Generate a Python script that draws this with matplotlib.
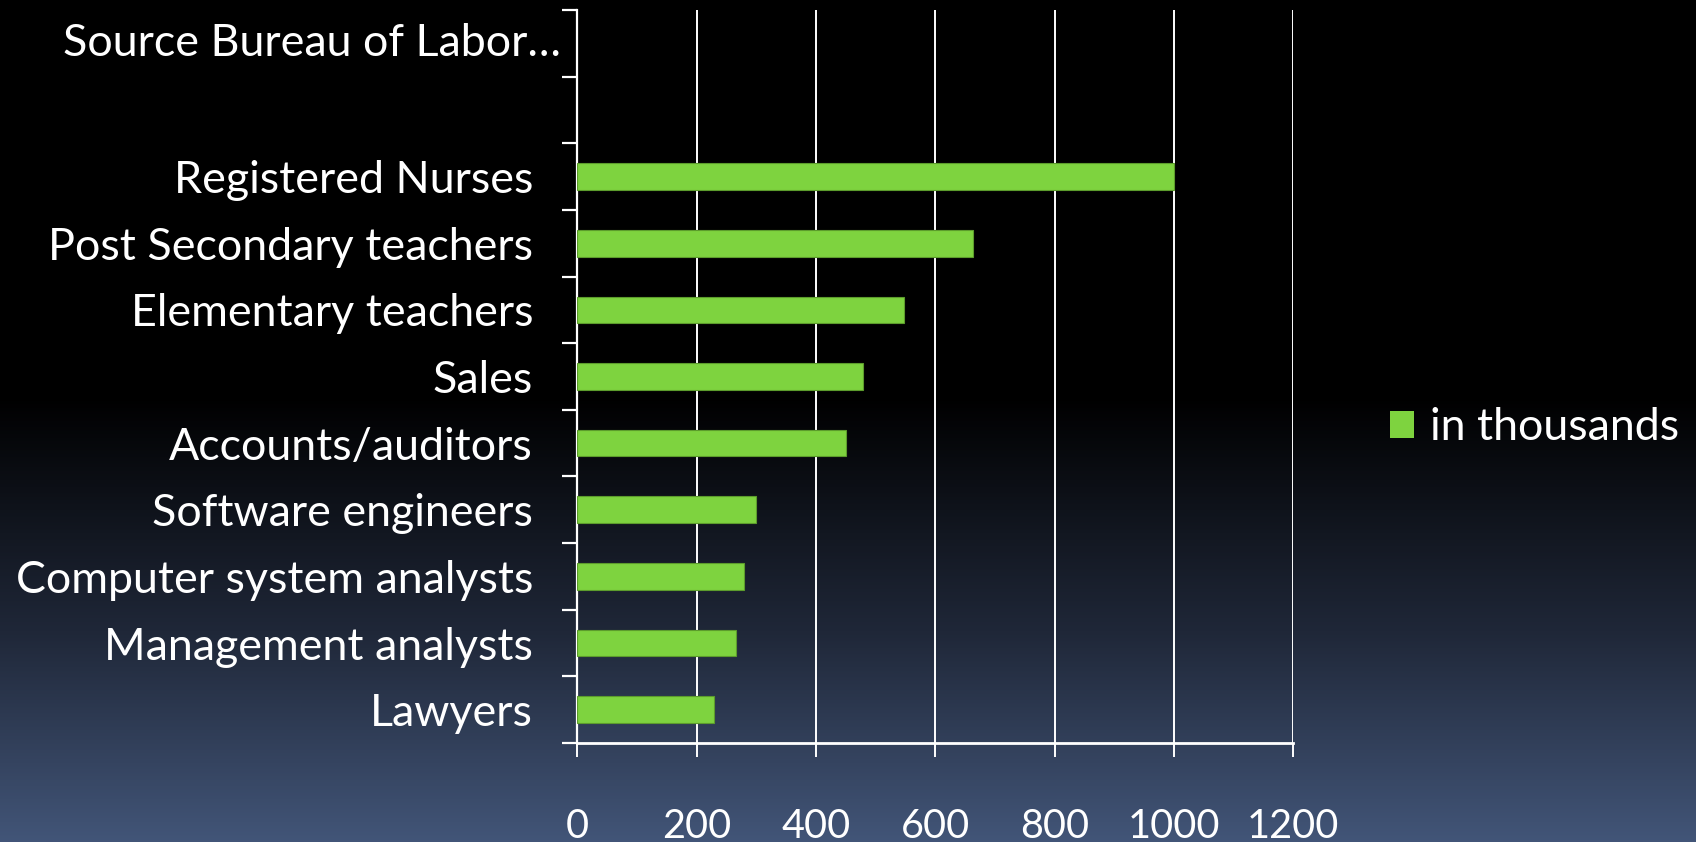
import matplotlib.pyplot as plt
import numpy as np
from matplotlib.colors import LinearSegmentedColormap
from matplotlib.patches import Patch
import matplotlib.transforms as mtransforms

plt.rcParams['font.family'] = ['Lato', 'DejaVu Sans']

# data, bottom to top (index 9 is an empty slot, 10 holds the source note)
jobs = ["Lawyers", "Management analysts", "Computer system analysts",
        "Software engineers", "Accounts/auditors", "Sales",
        "Elementary teachers", "Post Secondary teachers", "Registered Nurses"]
in_thousands = [229, 265, 280, 300, 450, 478, 547, 663, 1000]
source_note = "Source Bureau of Labor\u2026"
x_ticks = [0, 200, 400, 600, 800, 1000, 1200]

green = "#7ed33f"
fs = 32.2

fig = plt.figure(figsize=(16.96, 8.42), dpi=100)

# background: black on top, fading to slate blue at the bottom
bg = fig.add_axes([0, 0, 1, 1], zorder=-10)
cmap = LinearSegmentedColormap.from_list("bg", [(0, "#000000"), (0.47, "#000000"),
                                                (0.75, "#1f2738"), (1, "#425578")])
grad = np.linspace(0, 1, 512).reshape(-1, 1)
bg.imshow(grad, aspect="auto", cmap=cmap, extent=[0, 1, 0, 1], origin="upper")
bg.axis("off")

ax = fig.add_axes([0.3405, 0.1176, 0.4219, 0.8705])
ax.set_facecolor("none")

y = np.arange(len(jobs))
ax.barh(y, in_thousands, height=0.4, color=green, edgecolor="#5c9c2c",
        linewidth=0.8, zorder=3, label="in thousands")

ax.set_xlim(0, 1200)
ax.set_ylim(-0.5, 10.5)
ax.set_xticks(x_ticks)
ax.set_xticklabels([str(v) for v in x_ticks])
ax.set_yticks(y)
ax.set_yticklabels(jobs)
ax.set_yticks(np.arange(-0.5, 11, 1), minor=True)

ax.grid(axis="x", color="white", linewidth=1.4, zorder=1)
ax.tick_params(axis="x", colors="white", labelsize=28.5, length=10, width=1.4,
               pad=37, direction="out")
ax.tick_params(axis="y", which="major", length=0, colors="white",
               labelsize=fs, pad=32)
ax.tick_params(axis="y", which="minor", length=11, width=1.6, color="white")

for s in ["top", "right"]:
    ax.spines[s].set_visible(False)
ax.spines["left"].set_color("white")
ax.spines["left"].set_linewidth(1.6)
ax.spines["bottom"].set_color("white")
ax.spines["bottom"].set_linewidth(2.0)

# source note sits in the top category slot
trans = mtransforms.blended_transform_factory(ax.transAxes, ax.transData)
ax.text(-0.023, 10, source_note, transform=trans, ha="right", va="center",
        color="white", fontsize=fs)

leg = fig.legend(handles=[Patch(facecolor=green, edgecolor="none", label="in thousands")],
                 loc="center left", bbox_to_anchor=(0.8195, 0.492), frameon=False,
                 fontsize=fs, handlelength=0.55, handleheight=0.55, handletextpad=0.35,
                 labelcolor="white", borderpad=0, borderaxespad=0)

fig.savefig("out.png", dpi=100)
